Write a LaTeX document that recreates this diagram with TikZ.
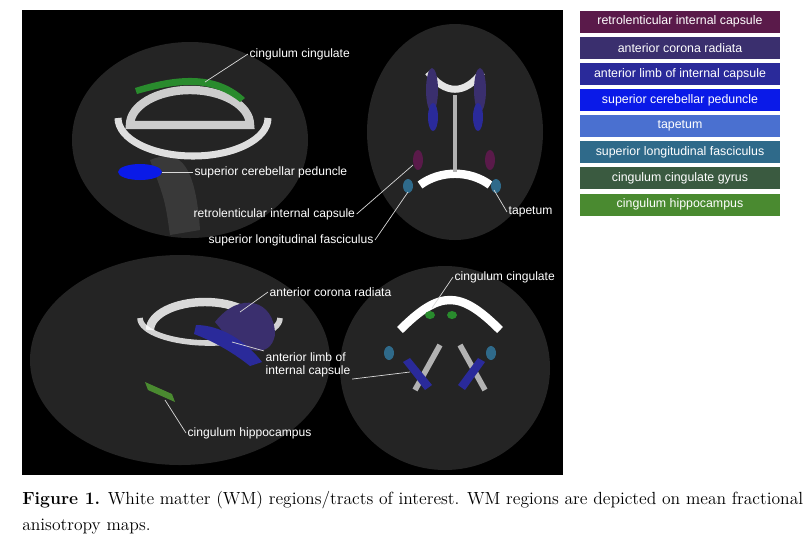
\documentclass[tikz,border=0pt]{standalone}
\usepackage{fontspec}
\setsansfont{Liberation Sans}
\usetikzlibrary{positioning}
\definecolor{cRIC}{HTML}{5A1A4A}
\definecolor{cACR}{HTML}{3A2F6E}
\definecolor{cALIC}{HTML}{2A2A9A}
\definecolor{cSCP}{HTML}{0A1AE8}
\definecolor{cTAP}{HTML}{4A70D0}
\definecolor{cSLF}{HTML}{2F6A8A}
\definecolor{cCCG}{HTML}{3A5A40}
\definecolor{cCH}{HTML}{4A8A30}

\begin{document}
\begin{tikzpicture}[x=0.25mm,y=-0.25mm,
    legendbox/.style={rectangle, minimum width=50mm, minimum height=5.5mm,
      inner sep=0pt, text=white, font=\sffamily\fontsize{8.8}{9}\selectfont},
    lbl/.style={text=white, font=\sffamily\fontsize{8.6}{9.6}\selectfont, inner sep=1pt},
    pointer/.style={draw=white!85!black, line width=0.5pt},
    brain/.style={fill=gray!28!black}]
  \useasboundingbox (0,0) rectangle (812,550);
  \fill[white] (0,0) rectangle (812,550);

% SCANS

  \fill[black] (22,10) rectangle (563,475);
  % top left, sagittal
  \fill[brain] (190,140) ellipse (118 and 98);
  \fill[gray!45!black] (150,160) .. controls (175,150) and (195,155) .. (200,230)
    -- (170,235) .. controls (165,200) .. cycle;
  \draw[white!80!black, line width=6pt] (130,125) arc (180:360:60 and 35) -- cycle;
  \draw[white, line width=5pt, opacity=0.85] (118,118) arc (180:0:75 and 38);
  \fill[cCCG!70!green] (135,88) .. controls (185,72) and (220,75) .. (245,98)
    -- (240,102) .. controls (215,82) and (185,80) .. (137,94) -- cycle;
  \fill[cSCP] (140,172) ellipse (22 and 8);
  % top right, axial
  \fill[brain] (455,132) ellipse (88 and 108);
  \draw[white!90!black, line width=5pt] (428,72) .. controls (445,95) and (465,95) .. (482,72);
  \draw[white, line width=6pt] (420,185) .. controls (440,170) and (470,170) .. (490,185);
  \draw[white!70!black, line width=2.5pt] (455,95) -- (455,172);
  \fill[cACR] (432,90) ellipse (6 and 22);
  \fill[cACR] (480,90) ellipse (6 and 22);
  \fill[cALIC] (433,117) ellipse (5 and 14);
  \fill[cALIC] (478,117) ellipse (5 and 14);
  \fill[cRIC] (418,160) ellipse (5 and 10);
  \fill[cRIC] (490,160) ellipse (5 and 10);
  \fill[cSLF] (408,186) ellipse (5 and 7);
  \fill[cSLF] (496,186) ellipse (5 and 7);
  % bottom left, sagittal
  \fill[brain] (180,360) ellipse (150 and 105);
  \draw[white!85!black, line width=6pt] (150,330) arc (180:360:55 and 28);
  \draw[white, line width=4pt, opacity=0.8] (140,318) arc (180:0:70 and 25);
  \fill[cACR] (215,322) .. controls (240,290) and (275,300) .. (275,335)
    .. controls (270,360) and (245,350) .. (230,340) -- cycle;
  \fill[cALIC] (196,325) .. controls (220,325) and (245,340) .. (262,362)
    -- (250,366) .. controls (230,350) and (210,340) .. (194,334) -- cycle;
  \fill[cCH] (145,382) -- (172,394) -- (175,402) -- (148,390) -- cycle;
  % bottom right, coronal
  \fill[brain] (445,368) ellipse (105 and 102);
  \draw[white, line width=6pt] (400,330) .. controls (440,290) and (460,290) .. (500,330);
  \draw[white!70!black, line width=4pt] (415,390) -- (440,345) (485,390) -- (460,345);
  \fill[cCCG!70!green] (430,315) ellipse (5 and 4);
  \fill[cCCG!70!green] (452,315) ellipse (5 and 4);
  \fill[cSLF] (389,353) ellipse (5 and 7);
  \fill[cSLF] (491,353) ellipse (5 and 7);
  \fill[cALIC] (403,362) -- (410,358) -- (432,385) -- (425,390) -- cycle;
  \fill[cALIC] (478,358) -- (485,362) -- (465,390) -- (458,385) -- cycle;

% LABELS

  \node[lbl, anchor=west] (ccTop) at (248,54) {cingulum cingulate};
  \coordinate (ccTopEnd) at (205,82);
  \draw[pointer] (ccTop.west) -- (ccTopEnd);
  \node[lbl, anchor=west] (scp) at (193,172) {superior cerebellar peduncle};
  \coordinate (scpEnd) at (162,172);
  \draw[pointer] (scp.west) -- (scpEnd);
  \node[lbl, anchor=west] (ric) at (192,214) {retrolenticular internal capsule};
  \coordinate (ricEnd) at (413,165);
  \draw[pointer] (ric.east) -- (ricEnd);
  \node[lbl, anchor=west] (slf) at (207,240) {superior longitudinal fasciculus};
  \coordinate (slfEnd) at (408,192);
  \draw[pointer] (slf.east) -- (slfEnd);
  \node[lbl, anchor=west] (tap) at (507,212) {tapetum};
  \coordinate (tapEnd) at (494,190);
  \draw[pointer] (tap.west) -- (tapEnd);
  \node[lbl, anchor=west] (acr) at (268,292) {anterior corona radiata};
  \coordinate (acrEnd) at (240,312);
  \draw[pointer] (acr.west) -- (acrEnd);
  \node[lbl, align=left, anchor=west] (alic) at (264,365) {anterior limb of\\internal capsule};
  \coordinate (alicEnd) at (232,342);
  \draw[pointer] (alic.north west) -- (alicEnd);
  \node[lbl, anchor=west] (ch) at (186,433) {cingulum hippocampus};
  \coordinate (chEnd) at (165,400);
  \draw[pointer] (ch.west) -- (chEnd);
  \node[lbl, anchor=west] (ccBot) at (453,277) {cingulum cingulate};
  \coordinate (ccBotEnd) at (432,308);
  \draw[pointer] (ccBot.west) -- (ccBotEnd);
  \coordinate (alicBotEnd) at (410,372);
  \draw[pointer] (alic.south east) -- (alicBotEnd);

% LEGEND

  \node[legendbox, fill=cRIC] (lRIC) at (680,21.5) {retrolenticular internal capsule};
  \node[legendbox, fill=cACR, below=0.9mm of lRIC] (lACR) {anterior corona radiata};
  \node[legendbox, fill=cALIC, below=0.9mm of lACR] (lALIC) {anterior limb of internal capsule};
  \node[legendbox, fill=cSCP, below=0.9mm of lALIC] (lSCP) {superior cerebellar peduncle};
  \node[legendbox, fill=cTAP, below=0.9mm of lSCP] (lTAP) {tapetum};
  \node[legendbox, fill=cSLF, below=0.9mm of lTAP] (lSLF) {superior longitudinal fasciculus};
  \node[legendbox, fill=cCCG, below=0.9mm of lSLF] (lCCG) {cingulum cingulate gyrus};
  \node[legendbox, fill=cCH, below=0.9mm of lCCG] (lCH) {cingulum hippocampus};

% CAPTION

  \node[anchor=west, inner sep=0pt, font=\fontsize{12.5}{14}\selectfont] (cap1) at (22,500)
    {\textbf{Figure 1.} White matter (WM) regions/tracts of interest. WM regions are depicted on mean fractional};
  \node[anchor=west, inner sep=0pt, font=\fontsize{12.5}{14}\selectfont] (cap2) at (22,527)
    {anisotropy maps.};
\end{tikzpicture}
\end{document}
